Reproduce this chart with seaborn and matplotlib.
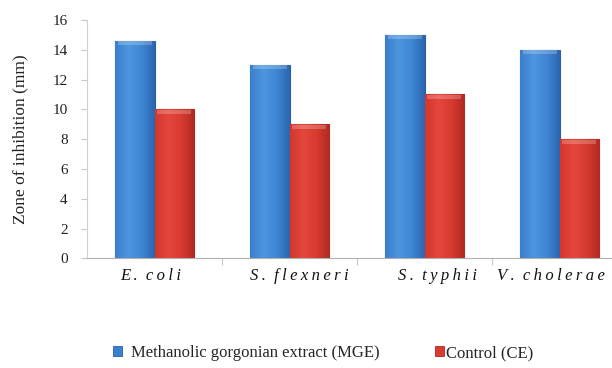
import matplotlib
matplotlib.use("Agg")
import matplotlib.pyplot as plt
from matplotlib.patches import Patch
from matplotlib.colors import LinearSegmentedColormap
from matplotlib.transforms import ScaledTranslation
import seaborn as sns
import pandas as pd
import numpy as np

organisms = ["E. coli", "S. flexneri", "S. typhii", "V. cholerae"]
mge_values = [14.6, 13, 15, 14]
control_values = [10, 9, 11, 8]
series_names = ["Methanolic gorgonian extract (MGE)", "Control (CE)"]
y_ticks = [0, 2, 4, 6, 8, 10, 12, 14, 16]

colors = ["#3b80cf", "#da3a30"]
edge_colors = ["#2a5f9e", "#a82a22"]
# left-to-right shading used to give the bars a rounded look
shades = [
    ["#3a7fcc", "#4d95de", "#3f87d4", "#2b66b0"],
    ["#d3362c", "#e4473c", "#d83a30", "#b02a22"],
]
# horizontal nudges (points) for the category labels
label_shift = [-3, 7, 9, -6]

df = pd.DataFrame({
    "organism": organisms * 2,
    "series": [series_names[0]] * 4 + [series_names[1]] * 4,
    "value": mge_values + control_values,
})

sns.set_theme(style="white")
plt.rcParams["font.family"] = ["Liberation Serif", "DejaVu Serif"]

fig = plt.figure(figsize=(6.12, 3.68), dpi=100)
ax = fig.add_axes([87 / 612, 1 - 258.3 / 368, 1 - 87 / 612, (258.3 - 20) / 368])

sns.barplot(data=df, x="organism", y="value", hue="series", order=organisms,
            hue_order=series_names, palette=colors, saturation=1, width=0.58,
            gap=0, legend=False, ax=ax)

xlim = (-0.5, -0.5 + 525 / 135)
ylim = (0, 16)

for i, cont in enumerate(ax.containers):
    cmap = LinearSegmentedColormap.from_list(f"shade{i}", shades[i])
    grad = np.linspace(0, 1, 64).reshape(1, -1)
    for bar in cont:
        bar.set_edgecolor(edge_colors[i])
        bar.set_linewidth(0.8)
        x0, w, h = bar.get_x(), bar.get_width(), bar.get_height()
        im = ax.imshow(grad, cmap=cmap, aspect="auto", extent=(x0, x0 + w, 0, h),
                       zorder=bar.get_zorder() + 0.1, interpolation="bicubic")
        im.set_clip_path(bar)
        # lighter bevel along the top of each bar
        ax.fill_between([x0 + w * 0.06, x0 + w * 0.94], h - 0.3, h - 0.04,
                        color="white", alpha=0.22, lw=0,
                        zorder=bar.get_zorder() + 0.2)

ax.set_xlim(*xlim)
ax.set_ylim(*ylim)
ax.set_yticks(y_ticks)
ax.set_yticklabels([str(t) for t in y_ticks], fontsize=11, color="#222222")
ax.tick_params(axis="y", which="major", left=True, length=4, width=0.8,
               color="#c8c8c8", pad=10)

spaced = ["\u2009".join(list(name)).replace("\u2009 \u2009", "  ") for name in organisms]
ax.set_xticks(range(len(organisms)))
ax.set_xticklabels(spaced, fontsize=12, style="italic", color="#111111")
ax.tick_params(axis="x", which="major", bottom=False, pad=1)
for lab, dx in zip(ax.get_xticklabels(), label_shift):
    lab.set_transform(lab.get_transform() + ScaledTranslation(dx / 72, 0, fig.dpi_scale_trans))
ax.set_xticks([0.5, 1.5, 2.5], minor=True)
ax.tick_params(axis="x", which="minor", bottom=True, length=5, width=0.8,
               color="#c8c8c8")

ax.set_xlabel("")
ax.set_ylabel("Zone of inhibition (mm)", fontsize=12.5, color="#222222", labelpad=17)

for side in ["top", "right"]:
    ax.spines[side].set_visible(False)
ax.spines["left"].set_color("#d0d0d0")
ax.spines["bottom"].set_color("#b0b0b0")
ax.spines["left"].set_linewidth(0.8)
ax.spines["bottom"].set_linewidth(0.8)

handles = [Patch(facecolor=colors[i], edgecolor=edge_colors[i], linewidth=0.6)
           for i in range(2)]
legend_y = 1 - 353 / 368
leg1 = fig.legend([handles[0]], [series_names[0]], loc="center left",
                  bbox_to_anchor=(113 / 612, legend_y), frameon=False, fontsize=12,
                  handlelength=0.55, handleheight=0.55, handletextpad=0.55,
                  borderpad=0, borderaxespad=0)
leg2 = fig.legend([handles[1]], [series_names[1]], loc="center left",
                  bbox_to_anchor=(435 / 612, legend_y), frameon=False, fontsize=12,
                  handlelength=0.55, handleheight=0.55, handletextpad=0.1,
                  borderpad=0, borderaxespad=0)

fig.savefig("out.png", dpi=100)
